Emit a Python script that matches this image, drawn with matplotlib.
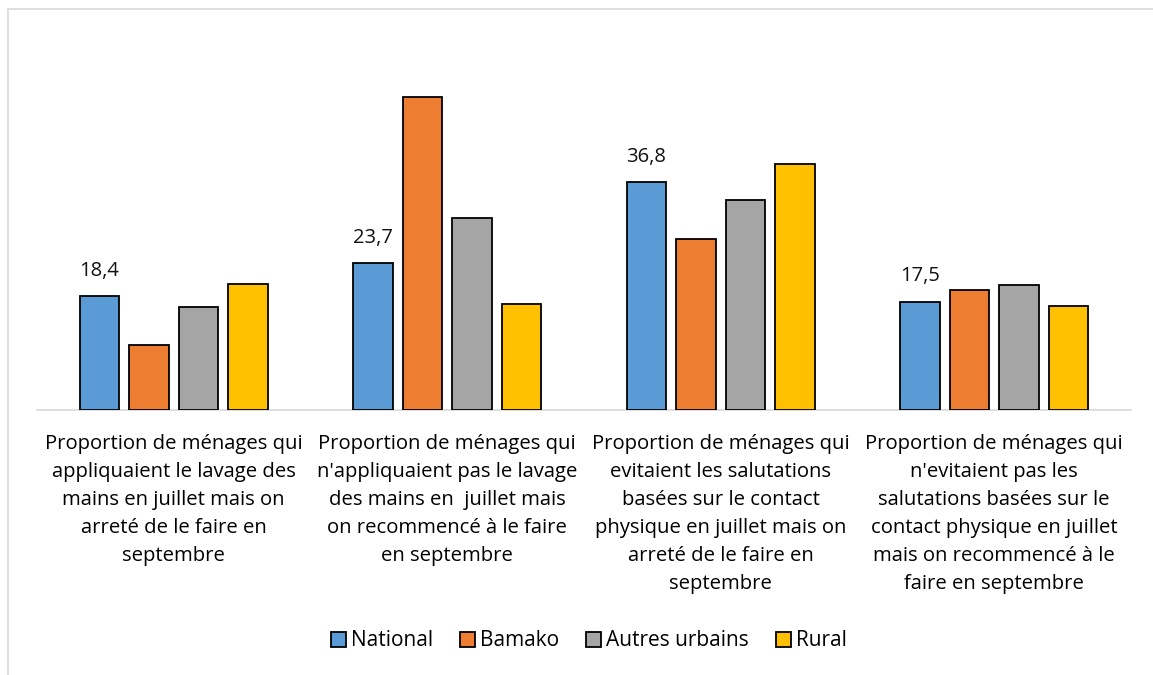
import matplotlib
matplotlib.use("Agg")
import matplotlib.pyplot as plt
from matplotlib.patches import Rectangle
import numpy as np

# ---- data ----
categories = [
    "Proportion de ménages qui\nappliquaient le lavage des\nmains en juillet mais on\narreté de le faire en\nseptembre",
    "Proportion de ménages qui\nn'appliquaient pas le lavage\ndes mains en  juillet mais\non recommencé à le faire\nen septembre",
    "Proportion de ménages qui\nevitaient les salutations\nbasées sur le contact\nphysique en juillet mais on\narreté de le faire en\nseptembre",
    "Proportion de ménages qui\nn'evitaient pas les\nsalutations basées sur le\ncontact physique en juillet\nmais on recommencé à le\nfaire en septembre",
]
series_names = ["National", "Bamako", "Autres urbains", "Rural"]
national = [18.4, 23.7, 36.8, 17.5]
bamako = [10.5, 50.5, 27.6, 19.4]
autres_urbains = [16.6, 31.0, 33.9, 20.2]
rural = [20.3, 17.1, 39.7, 16.8]
national_labels = ["18,4", "23,7", "36,8", "17,5"]

colors = ["#5B9BD5", "#ED7D31", "#A5A5A5", "#FFC000"]

plt.rcParams["font.family"] = ["Open Sans", "DejaVu Sans"]

W, H = 1153, 675
fig = plt.figure(figsize=(W / 100, H / 100), dpi=100)

# light grey chart frame (cut off at right/bottom like the source)
fig.patches.append(Rectangle((7.5 / W, -0.1), 1.2, 1 - 8.5 / H + 0.1,
                             transform=fig.transFigure, fill=False,
                             edgecolor="#D9D9D9", linewidth=1.2))

ax = fig.add_axes([37 / W, 1 - 410 / H, (1131 - 37) / W, 350 / H])
ax.set_xlim(-0.5, 3.5)
ax.set_ylim(0, 56.5)

x = np.arange(len(categories))
bar_w = 0.146
step = 0.181
all_series = [national, bamako, autres_urbains, rural]
for i, (name, vals) in enumerate(zip(series_names, all_series)):
    ax.bar(x + (i - 1.5) * step, vals, width=bar_w, color=colors[i],
           edgecolor="black", linewidth=1.3, label=name, zorder=3)

for xi, v, lab in zip(x, national, national_labels):
    ax.text(xi - 1.5 * step, v + 2.5, lab, ha="center", va="bottom",
            fontsize=14.5, color="#111111")

for s in ["top", "right", "left"]:
    ax.spines[s].set_visible(False)
ax.spines["bottom"].set_color("#D9D9D9")
ax.spines["bottom"].set_linewidth(1.2)
ax.set_yticks([])
ax.set_xticks([])

for xi, cat in zip(x, categories):
    ax.text(xi, -3.8, cat, ha="center", va="top", fontsize=14.6,
            linespacing=1.54, color="#000000")

leg = fig.legend(loc="center", bbox_to_anchor=(589 / W, 1 - 641 / H), ncol=4,
                 frameon=False, fontsize=15, handlelength=0.7,
                 handleheight=0.7, handletextpad=0.25, columnspacing=1.3)
for h in leg.legend_handles:
    h.set_linewidth(1.3)

fig.savefig("out.png", dpi=100, facecolor="white")
